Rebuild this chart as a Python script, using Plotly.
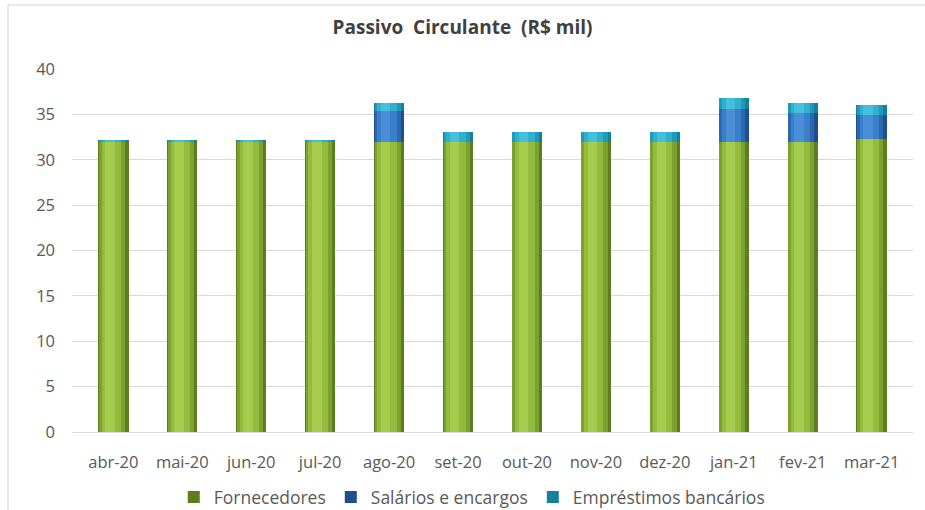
import plotly.graph_objects as go
import numpy as np

meses = ["abr-20", "mai-20", "jun-20", "jul-20", "ago-20", "set-20",
         "out-20", "nov-20", "dez-20", "jan-21", "fev-21", "mar-21"]
fornecedores = [32, 32, 32, 32, 32, 32, 32, 32, 32, 32, 32, 32.3]
salarios = [0, 0, 0, 0, 3.4, 0, 0, 0, 0, 3.6, 3.1, 2.6]
emprestimos = [0.1, 0.1, 0.1, 0.1, 0.9, 1.1, 1.1, 1.1, 1.1, 1.2, 1.1, 1.1]

series = [
    ("Fornecedores", fornecedores, ["#5d7d1f", "#7ba12f", "#93bc3e", "#a6cc4e"]),
    ("Salários e encargos", salarios, ["#1f4f8f", "#2c68b0", "#3a7fcb", "#4a8fd6"]),
    ("Empréstimos bancários", emprestimos, ["#15809c", "#2199b8", "#2eb0cf", "#45c0db"]),
]

x = np.arange(len(meses))
fig = go.Figure()
base = np.zeros(len(meses))
widths = [0.44, 0.38, 0.28, 0.14]
offsets = [-0.22, -0.21, -0.17, -0.12]
for name, vals, cols in series:
    v = np.array(vals, dtype=float)
    for i, (w, o, c) in enumerate(zip(widths, offsets, cols)):
        fig.add_trace(go.Bar(
            x=x, y=v, base=base, width=w, offset=o,
            marker=dict(color=c, line=dict(width=0)),
            name=name, showlegend=(i == 0), legendgroup=name,
            hoverinfo="skip" if i else None,
        ))
    base = base + v

W, H = 925, 510
ml, mr, mt, mb = 72, 12, 69, 78
ph = H - mt - mb
pw = W - ml - mr
fig.update_layout(
    width=W, height=H,
    barmode="overlay",
    paper_bgcolor="white", plot_bgcolor="white",
    margin=dict(l=ml, r=mr, t=mt, b=mb, autoexpand=False),
    font=dict(family="'Open Sans', sans-serif", size=15, color="#595959"),
    title=dict(text="<b>Passivo  Circulante  (R$ mil)</b>", x=0.5, xanchor="center",
               y=1 - 27 / H, yanchor="middle",
               font=dict(size=19, color="#404040")),
    legend=dict(orientation="h", x=0.51, xanchor="center", xref="container",
                y=1 - 497 / H, yref="container",
                yanchor="middle", font=dict(size=17.5, color="#595959"),
                itemwidth=30, tracegroupgap=0, traceorder="normal"),
    xaxis=dict(tickmode="array", tickvals=x, ticktext=meses, range=[-0.6, 11.6],
               showgrid=False, zeroline=False, showline=True, linecolor="#d9d9d9",
               ticks="", ticklabelstandoff=15, tickfont=dict(size=16.5)),
    yaxis=dict(range=[0, 40], dtick=5, showgrid=True, gridcolor="#d9d9d9",
               zeroline=False, showline=False, ticks="", ticklabelstandoff=16,
               tickfont=dict(size=16.5)),
    bargap=0,
    shapes=[
        dict(type="line", xref="paper", yref="paper",
             x0=(8 - ml) / pw, x1=(8 - ml) / pw,
             y0=1 + (mt - 5) / ph, y1=-(H - (H - mb)) / ph,
             line=dict(color="#e3e3e3", width=1.5)),
        dict(type="line", xref="paper", yref="paper",
             x0=(8 - ml) / pw, x1=1 + mr / pw,
             y0=1 + (mt - 5) / ph, y1=1 + (mt - 5) / ph,
             line=dict(color="#e3e3e3", width=1.5)),
    ],
)
fig.write_html("out.html", post_script="document.body.style.margin='0';",
               config={"displayModeBar": False})
